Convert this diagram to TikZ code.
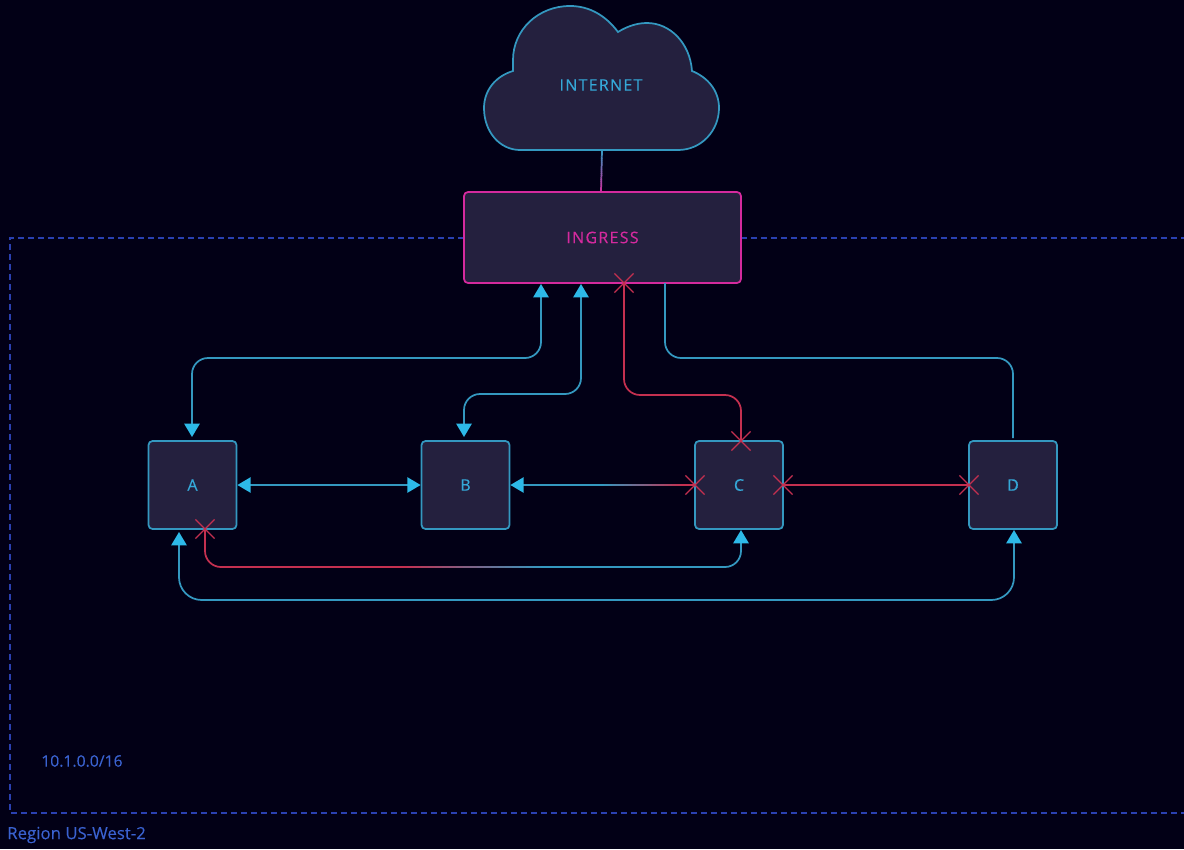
\documentclass[tikz,border=0pt]{standalone}
\usepackage{fontspec}
\usepackage{tikz}
\usetikzlibrary{arrows.meta,shapes.misc,calc}
\newfontfamily\boxfont[LetterSpace=8,FakeBold=0.35]{Open Sans}
\newfontfamily\notefont[FakeBold=0.15]{Open Sans}
\definecolor{bgdark}{HTML}{020016}
\definecolor{boxfill}{HTML}{24203E}
\definecolor{wire}{HTML}{3498C0}
\definecolor{tipblue}{HTML}{2DB9E8}
\definecolor{boxtext}{HTML}{35A8D8}
\definecolor{pink}{HTML}{D42A9E}
\definecolor{xred}{HTML}{C43050}
\definecolor{regionblue}{HTML}{2A40B0}
\definecolor{notetext}{HTML}{3A62D0}
\tikzset{
  hostbox/.style={draw=wire, fill=boxfill, line width=1.3pt, rounded corners=3pt, minimum size=66pt, inner sep=0pt, text=boxtext, font=\boxfont\fontsize{12}{14}\selectfont},
  wireline/.style={draw=wire, line width=1.3pt, rounded corners=12pt},
  redline/.style={draw=xred, line width=1.3pt, rounded corners=12pt},
  tipped/.style={{Triangle[length=10pt,width=11.5pt,color=tipblue]}-{Triangle[length=10pt,width=11.5pt,color=tipblue]}},
  tipend/.style={-{Triangle[length=10pt,width=11.5pt,color=tipblue]}},
  xmark/.style={cross out, draw=xred, line width=0.9pt, minimum size=13.5pt, inner sep=0pt},
  notelabel/.style={text=notetext, font=\notefont\fontsize{11.8}{13}\selectfont, inner sep=0pt}
}

\begin{document}
\begin{tikzpicture}[x=0.75pt,y=-0.75pt]
\useasboundingbox[fill=bgdark] (0,0) rectangle (1184,849);

\path[draw=regionblue,line width=0.9pt,dash pattern=on 4.5pt off 3pt] (464,238) -- (10,238) -- (10,813) -- (1184,813);
\path[draw=regionblue,line width=0.9pt,dash pattern=on 4.5pt off 3pt] (741,238) -- (1184,238);

\path[draw=wire,fill=boxfill,line width=1.3pt] (520,150) -- (678,150) .. controls (702,150) and (719,130) .. (719,108) .. controls (719,90) and (707,77) .. (692,71) .. controls (690,43) and (670,23) .. (647,23) .. controls (636,23) and (626,27) .. (618,32) .. controls (606,16) and (590,6) .. (570,6) .. controls (538,6) and (513,30) .. (513,60) -- (513,71) .. controls (496,76) and (484,90) .. (484,108) .. controls (484,132) and (500,150) .. (520,150) -- cycle;

\node[text=boxtext,font=\boxfont\fontsize{12}{14}\selectfont] (net) at (601,85) {INTERNET};
\node[hostbox,draw=pink,text=pink,minimum width=207.75pt,minimum height=68.25pt] (ing) at (602.5,237.5) {INGRESS};

\node[hostbox] (A) at (192.5,485) {A};
\node[hostbox] (B) at (465.5,485) {B};
\node[hostbox] (C) at (739,485) {C};
\node[hostbox] (D) at (1013,485) {D};

\node[notelabel,anchor=west] (cidr) at (41,761) {10.1.0.0/16};
\node[notelabel,anchor=west,font=\notefont\fontsize{12.6}{14}\selectfont] (region) at (7,835) {Region US-West-2};

\node[xmark] (xa) at (205,529) {};
\node[xmark] (xi) at (624,283) {};
\node[xmark] (xct) at (741,441) {};
\node[xmark] (xcl) at (695,485) {};
\node[xmark] (xcr) at (783,485) {};
\node[xmark] (xd) at (969,485) {};

\coordinate (cloudb) at (602,150);
\coordinate (ingt) at (601,192);
\coordinate (ia) at (541,284);
\coordinate (ib) at (581,284);
\coordinate (id) at (665,283);
\coordinate (at) at (192,437);
\coordinate (bt) at (464,437);
\coordinate (dt) at (1013,438);
\coordinate (ab) at (179,532);
\coordinate (cb) at (741,530);
\coordinate (db) at (1014,530);

\foreach \i [evaluate=\i as \p using int(100-5*\i)] in {0,...,19}
  \path[draw=wire!\p!pink,line width=1.3pt] ($(cloudb)!\i/20!(ingt)$) -- ($(cloudb)!\i/20+0.06!(ingt)$);

\path[wireline,tipped] (ia) -- (541,358) -- (192,358) -- (at);
\path[wireline,tipped] (ib) -- (581,394) -- (464,394) -- (bt);
\path[wireline] (id) -- (665,358) -- (1013,358) -- (dt);
\path[redline] (xi.center) -- (624,395) -- (741,395) -- (xct.center);
\path[draw=wire,line width=1.3pt,tipped] (A.east) -- (B.west);
\path[draw=xred,line width=1.3pt] (xcr.center) -- (xd.center);

\path[draw=wire,line width=1.3pt,tipend] (600,485) -- (B.east);
\path[draw=xred,line width=1.3pt] (680,485) -- (xcl.center);
\foreach \i [evaluate=\i as \p using int(5*\i)] in {0,...,19}
  \path[draw=xred!\p!wire,line width=1.3pt] (600+4*\i,485) -- (605+4*\i,485);

\path[redline] (xa.center) -- (205,567) -- (400,567);
\path[wireline,tipend] (540,567) -- (741,567) -- (cb);
\foreach \i [evaluate=\i as \p using int(100-5*\i)] in {0,...,19}
  \path[draw=xred!\p!wire,line width=1.3pt] (400+7*\i,567) -- (408+7*\i,567);

\path[wireline,rounded corners=17pt,tipped] (ab) -- (179,600) -- (1014,600) -- (db);
\end{tikzpicture}
\end{document}
